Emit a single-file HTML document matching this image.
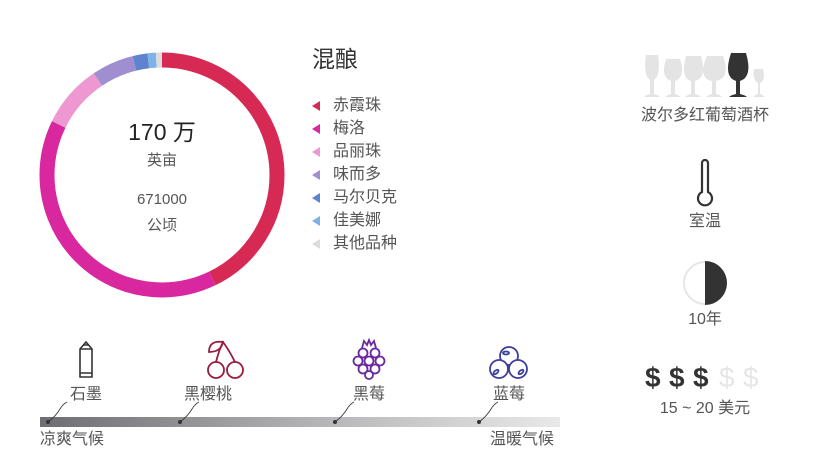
<!DOCTYPE html>
<html><head><meta charset="utf-8">
<style>
html,body{margin:0;padding:0;background:#fff;}
body{width:838px;height:461px;position:relative;overflow:hidden;font-family:"Liberation Sans","Noto Sans CJK SC",sans-serif;color:#555;}
.t{position:absolute;white-space:nowrap;line-height:1;}
.d{position:absolute;top:364px;font-size:28px;font-weight:bold;color:#333;line-height:1;}
</style></head><body>
<svg width="838" height="461" style="position:absolute;left:0;top:0">
  <defs>
    <linearGradient id="bar" x1="0" x2="1" y1="0" y2="0">
      <stop offset="0" stop-color="#6d6d72"/>
      <stop offset="0.5" stop-color="#b0b0b2"/>
      <stop offset="1" stop-color="#e9e9e9"/>
    </linearGradient>
  </defs>
  <g transform="translate(162,175) rotate(-90)" fill="none" stroke-width="15">
    <circle r="115" stroke="#d62a55" stroke-dasharray="309.1 1000" stroke-dashoffset="0"/>
    <circle r="115" stroke="#d8279f" stroke-dasharray="285 1000" stroke-dashoffset="-309.1"/>
    <circle r="115" stroke="#ee98d2" stroke-dasharray="60.2 1000" stroke-dashoffset="-594.1"/>
    <circle r="115" stroke="#a08fd0" stroke-dasharray="40.1 1000" stroke-dashoffset="-654.3"/>
    <circle r="115" stroke="#5f84cf" stroke-dasharray="14.1 1000" stroke-dashoffset="-694.4"/>
    <circle r="115" stroke="#7fb2e6" stroke-dasharray="8 1000" stroke-dashoffset="-708.5"/>
    <circle r="115" stroke="#dcdcdc" stroke-dasharray="6.1 1000" stroke-dashoffset="-716.5"/>
  </g>
  <g>
    <polygon points="320,101 320,111 312,106" fill="#d62a55"/>
    <polygon points="320,124 320,134 312,129" fill="#d8279f"/>
    <polygon points="320,147 320,157 312,152" fill="#ee98d2"/>
    <polygon points="320,170 320,180 312,175" fill="#a08fd0"/>
    <polygon points="320,193 320,203 312,198" fill="#5f84cf"/>
    <polygon points="320,216 320,226 312,221" fill="#7fb2e6"/>
    <polygon points="320,239 320,249 312,244" fill="#dcdcdc"/>
  </g>
  <g fill="#e4e4e4">
    <path d="M646,55 h12 q3,20 -4,25 v14 q4,1 6,3 h-16 q2,-2 6,-3 v-14 q-7,-5 -4,-25z"/>
    <path d="M666,59 h14 q6,18 -5,22 v13 q4,1 6,3 h-16 q2,-2 6,-3 v-13 q-11,-4 -5,-22z"/>
    <path d="M686,56 h15 q6,22 -6,25 v13 q4,1 6,3 h-16 q2,-2 6,-3 v-13 q-11,-3 -5,-25z"/>
    <path d="M707,56 h16 q8,22 -7,25 v13 q4,1 6,3 h-16 q2,-2 6,-3 v-13 q-15,-3 -5,-25z"/>
    <path d="M754,69 h9 q3,11 -3,14 v11 q3,1 5,3 h-12 q2,-2 5,-3 v-11 q-6,-3 -4,-14z"/>
  </g>
  <path fill="#333" d="M731,53 h15 q7,24 -6,28 v13 q5,1 7,3 h-18 q2,-2 7,-3 v-13 q-13,-4 -5,-28z"/>
  <path d="M702,163 a3,3 0 0 1 6,0 v29 a7,7 0 1 1 -6,0z" fill="none" stroke="#333" stroke-width="2.2"/>
  <circle cx="705" cy="283" r="21" fill="none" stroke="#e6e6e6" stroke-width="2"/>
  <path d="M705,261 a22,22 0 0 1 0,44z" fill="#333"/>
  <g fill="none" stroke="#333" stroke-width="1.6">
    <path d="M80,377 v-28 l6,-7 l6,7 v28z"/>
    <path d="M80,349 h12 M80,373 h12 M83,345 h6"/>
  </g>
  <g fill="none" stroke="#9b1b3f" stroke-width="1.8">
    <circle cx="216" cy="370" r="8"/>
    <circle cx="235" cy="370" r="8"/>
    <path d="M216,362 q3,-12 7,-20 q6,8 12,20"/>
    <path d="M223,342 q-14,-2 -14,10 q12,0 14,-10z"/>
  </g>
  <g fill="none" stroke="#6a2a9e" stroke-width="1.8">
    <path d="M362,348 l2,-7 l3,4 l2,-5 l2,5 l3,-4 l2,7"/>
    <circle cx="363" cy="353" r="4.5"/><circle cx="375" cy="353" r="4.5"/>
    <circle cx="358" cy="361" r="4.5"/><circle cx="369" cy="361" r="4.5"/><circle cx="380" cy="361" r="4.5"/>
    <circle cx="363" cy="369" r="4.5"/><circle cx="375" cy="369" r="4.5"/>
    <circle cx="369" cy="375" r="4"/>
  </g>
  <g fill="#fff" stroke="#3d3f9c" stroke-width="1.8">
    <circle cx="509" cy="356" r="9"/>
    <circle cx="499" cy="369" r="9"/>
    <circle cx="518" cy="369" r="9"/>
    <ellipse cx="506" cy="353" rx="3" ry="1.5"/>
    <ellipse cx="496" cy="372" rx="3" ry="1.5" transform="rotate(-40 496 372)"/>
    <ellipse cx="521" cy="372" rx="3" ry="1.5" transform="rotate(-40 521 372)"/>
  </g>
  <rect x="40" y="417" width="520" height="10" fill="url(#bar)"/>
  <g fill="none" stroke="#333" stroke-width="0.8">
    <path d="M48,422 q8,-6 12,-13 q3,-5 7,-7"/>
    <path d="M180,422 q8,-6 12,-13 q3,-5 7,-7"/>
    <path d="M335,422 q8,-6 12,-13 q3,-5 7,-7"/>
    <path d="M479,422 q8,-6 12,-13 q3,-5 7,-7"/>
  </g>
  <g fill="#333">
    <circle cx="48" cy="422" r="2"/><circle cx="180" cy="422" r="2"/>
    <circle cx="335" cy="422" r="2"/><circle cx="479" cy="422" r="2"/>
  </g>
</svg>

<div class="t" style="left:312px;top:48px;font-size:23px;color:#333">混酿</div>
<div class="t" style="left:333px;top:98px;font-size:16px">赤霞珠</div>
<div class="t" style="left:333px;top:121px;font-size:16px">梅洛</div>
<div class="t" style="left:333px;top:144px;font-size:16px">品丽珠</div>
<div class="t" style="left:333px;top:167px;font-size:16px">味而多</div>
<div class="t" style="left:333px;top:190px;font-size:16px">马尔贝克</div>
<div class="t" style="left:333px;top:213px;font-size:16px">佳美娜</div>
<div class="t" style="left:333px;top:236px;font-size:16px">其他品种</div>

<div class="t" style="left:112px;width:100px;text-align:center;top:121px;font-size:23px;color:#222">170 万</div>
<div class="t" style="left:112px;width:100px;text-align:center;top:153px;font-size:15px">英亩</div>
<div class="t" style="left:112px;width:100px;text-align:center;top:192px;font-size:15px">671000</div>
<div class="t" style="left:112px;width:100px;text-align:center;top:218px;font-size:15px">公顷</div>

<div class="t" style="left:625px;width:160px;text-align:center;top:108px;font-size:16px">波尔多红葡萄酒杯</div>
<div class="t" style="left:625px;width:160px;text-align:center;top:214px;font-size:16px">室温</div>
<div class="t" style="left:625px;width:160px;text-align:center;top:312px;font-size:16px">10年</div>
<div class="d" style="left:645px">$</div>
<div class="d" style="left:669px">$</div>
<div class="d" style="left:693px">$</div>
<div class="d" style="left:719px;color:#e6e6e6;font-weight:normal">$</div>
<div class="d" style="left:743px;color:#e6e6e6;font-weight:normal">$</div>
<div class="t" style="left:625px;width:160px;text-align:center;top:401px;font-size:16px">15 ~ 20 美元</div>

<div class="t" style="left:70px;top:387px;font-size:16px">石墨</div>
<div class="t" style="left:184px;top:387px;font-size:16px">黑樱桃</div>
<div class="t" style="left:353px;top:387px;font-size:16px">黑莓</div>
<div class="t" style="left:493px;top:387px;font-size:16px">蓝莓</div>
<div class="t" style="left:40px;top:432px;font-size:16px">凉爽气候</div>
<div class="t" style="left:490px;top:432px;font-size:16px">温暖气候</div>
</body></html>
